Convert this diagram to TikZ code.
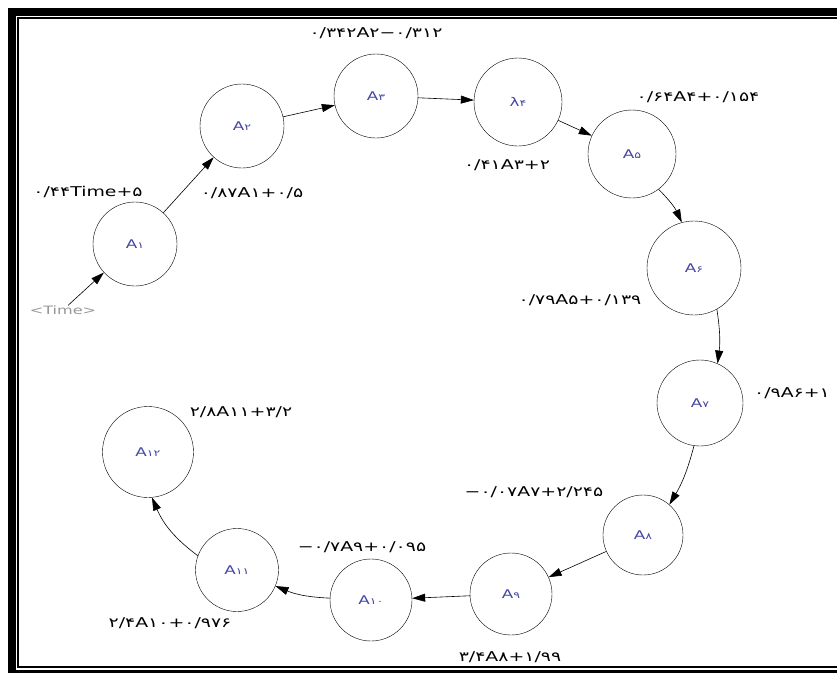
\documentclass[tikz,border=0pt]{standalone}
\usepackage{fontspec}
\setmainfont{DejaVu Sans}[FakeStretch=1.4]
\usetikzlibrary{arrows.meta}
\definecolor{nodeblue}{RGB}{70,70,165}
\definecolor{timegray}{RGB}{150,150,150}
\newcommand{\ix}[1]{{\fontsize{9}{9}\selectfont #1}}
\tikzset{
  st/.style={circle,draw,minimum size=84pt,inner sep=0pt,text=nodeblue,font=\fontsize{12}{12}\selectfont},
  eq/.style={font=\fontsize{13.5}{13.5}\selectfont,inner sep=0pt},
  arr/.style={-{Triangle[length=13pt,width=8pt]},line width=0.6pt}
}
\begin{document}
\begin{tikzpicture}[x=1pt,y=-1pt]
\useasboundingbox (0,0) rectangle (837,672);
% frame
\draw[line width=8pt] (950,11.5) -| (11.5,674) -- (950,674);
\draw[line width=2pt] (950,18) -| (18,667) -- (950,667);
% stocks
\node[st] (a1) at (135,244) {A\ix{۱}};
\node[st] (a2) at (242,126) {A\ix{۲}};
\node[st] (a3) at (376,96) {A\ix{۳}};
\node[st,minimum size=88pt] (a4) at (518,102) {λ\ix{۴}};
\node[st,minimum size=88pt] (a5) at (632,154) {A\ix{۵}};
\node[st,minimum size=94pt] (a6) at (694,268) {A\ix{۶}};
\node[st,minimum size=86pt] (a7) at (700,403) {A\ix{۷}};
\node[st,minimum size=80pt] (a8) at (643,535) {A\ix{۸}};
\node[st,minimum size=82pt] (a9) at (511,594) {A\ix{۹}};
\node[st,minimum size=82pt] (a10) at (371,600) {A\ix{۱۰}};
\node[st,minimum size=83pt] (a11) at (237,570) {A\ix{۱۱}};
\node[st,minimum size=91pt] (a12) at (148,452) {A\ix{۱۲}};
\node[eq,text=timegray,font=\fontsize{11.5}{11.5}\selectfont] (time) at (63,310) {<Time>};
% equations
\node[eq] (e1) at (88,192) {۰/۴۴Time+۵};
\node[eq] (e2) at (252,193) {۰/۸۷A۱+۰/۵};
\node[eq] (e3) at (376,33) {۰/۳۴۲A۲−۰/۳۱۲};
\node[eq] (e4) at (507,165) {۰/۴۱A۳+۲};
\node[eq] (e5) at (698,97) {۰/۶۴A۴+۰/۱۵۴};
\node[eq] (e6) at (580,300) {۰/۷۹A۵+۰/۱۳۹};
\node[eq] (e7) at (792,393) {۰/۹A۶+۱};
\node[eq] (e8) at (534,492) {−۰/۰۷A۷+۲/۲۴۵};
\node[eq] (e9) at (510,657) {۳/۴A۸+۱/۹۹};
\node[eq] (e10) at (362,547) {−۰/۷A۹+۰/۰۹۵};
\node[eq] (e11) at (170,623) {۲/۴A۱۰+۰/۹۷۶};
\node[eq] (e12) at (241,412) {۲/۸A۱۱+۳/۲};
\path[arr]
  (time) edge (a1)
  (a1) edge (a2)
  (a2) edge (a3)
  (a3) edge (a4)
  (a4) edge (a5)
  (a5.-53) edge[bend left=10] (a6.105)
  (a6.-61) edge[bend left=8] (a7.66)
  (a7.-98) edge[bend left=8] (a8.49)
  (a8) edge (a9)
  (a9) edge (a10)
  (a10) edge[bend left=10] (a11)
  (a11.160) edge[bend left=15] (a12.-85)
;
\end{tikzpicture}
\end{document}
